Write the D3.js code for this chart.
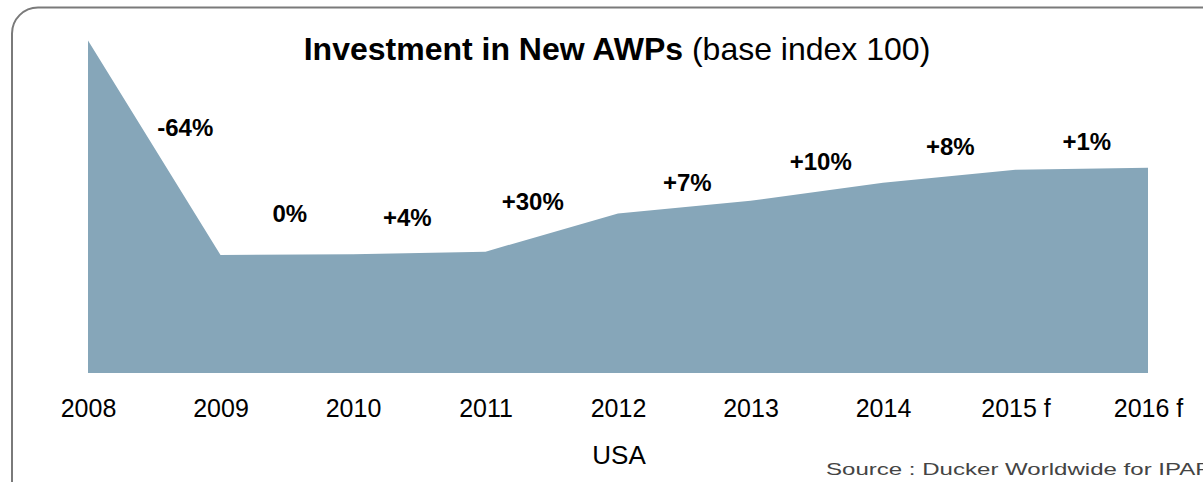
<!DOCTYPE html>
<html>
<head>
<meta charset="utf-8">
<script src="https://cdn.jsdelivr.net/npm/d3@7"></script>
<style>
  html, body { margin: 0; padding: 0; background: #fff; overflow: hidden; }
  svg { display: block; font-family: "Liberation Sans", Arial, sans-serif; }
</style>
</head>
<body>
<div class="chart"></div>
<script>
// data
const years = ["2008", "2009", "2010", "2011", "2012", "2013", "2014", "2015 f", "2016 f"];
const index = [100, 35.5, 35.7, 36.5, 48.0, 51.8, 57.2, 61.1, 61.7];
const changes = ["-64%", "0%", "+4%", "+30%", "+7%", "+10%", "+8%", "+1%"];

const width = 1203,
  height = 482;
const margin = { left: 88, right: 55, top: 40.5, bottom: 109 };

const svg = d3
  .select(".chart")
  .append("svg")
  .attr("width", width)
  .attr("height", height);

// frame
svg
  .append("rect")
  .attr("x", 12)
  .attr("y", 7.5)
  .attr("width", 1240)
  .attr("height", 520)
  .attr("rx", 26)
  .attr("fill", "none")
  .attr("stroke", "#7a7a7a")
  .attr("stroke-width", 2);

const xScale = d3
  .scalePoint()
  .domain(years)
  .range([margin.left, width - margin.right]);

const yScale = d3
  .scaleLinear()
  .domain([0, 100])
  .range([height - margin.bottom, margin.top]);

const area = d3
  .area()
  .x((d, i) => xScale(years[i]))
  .y0(yScale(0))
  .y1((d) => yScale(d));

svg.append("path").datum(index).attr("d", area).attr("fill", "#86a6b9");

// x axis, labels only
const xAxis = d3.axisBottom(xScale).tickSize(0).tickPadding(0);
const gx = svg
  .append("g")
  .attr("transform", "translate(0," + (yScale(0) + 44) + ")")
  .call(xAxis);
gx.select(".domain").remove();
gx.selectAll("text")
  .attr("dy", 0)
  .attr("font-size", 25)
  .attr("font-family", "Liberation Sans, Arial, sans-serif")
  .attr("fill", "#000");

// change labels between years (hand placed like the original)
const labelLift = [119, 32, 25.5, 3.5, 10, 13, 15, 18];
const labelShift = [31, 3, -12, -19, 3, 4, 1, 5];
svg
  .selectAll(".change")
  .data(changes)
  .enter()
  .append("text")
  .attr("class", "change")
  .attr("x", (d, i) => (xScale(years[i]) + xScale(years[i + 1])) / 2 + labelShift[i])
  .attr("y", (d, i) => yScale(index[i + 1]) - labelLift[i])
  .attr("text-anchor", "middle")
  .attr("font-size", 24)
  .attr("font-weight", "bold")
  .text((d) => d);

// title
const title = svg
  .append("text")
  .attr("x", 617)
  .attr("y", 60)
  .attr("text-anchor", "middle")
  .attr("font-size", 32);
title.append("tspan").attr("font-weight", "bold").text("Investment in New AWPs");
title.append("tspan").text(" (base index 100)");

svg
  .append("text")
  .attr("x", 619)
  .attr("y", 464)
  .attr("text-anchor", "middle")
  .attr("font-size", 26)
  .text("USA");

svg
  .append("text")
  .attr("x", 826)
  .attr("y", 475)
  .attr("font-size", 17)
  .attr("textLength", 384)
  .attr("lengthAdjust", "spacingAndGlyphs")
  .attr("fill", "#444")
  .text("Source : Ducker Worldwide for IPAF");
</script>
</body>
</html>
